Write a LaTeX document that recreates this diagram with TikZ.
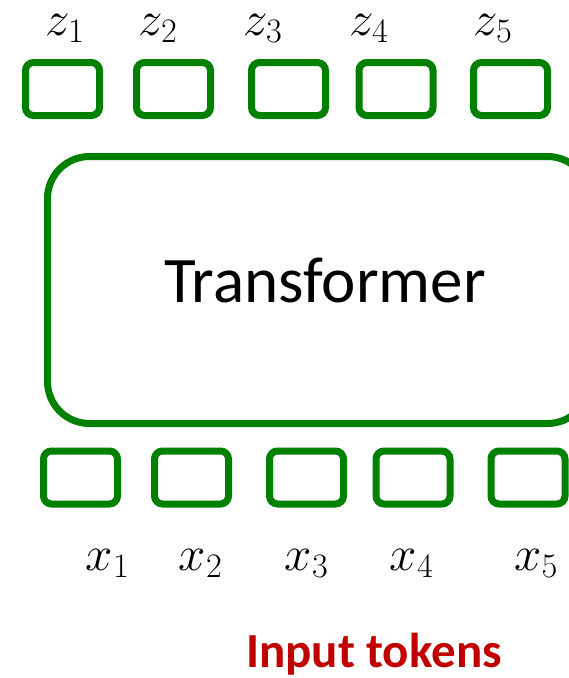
\RequirePackage{fix-cm}
\documentclass[tikz,border=0pt]{standalone}
\usepackage{amsmath}
\usepackage{fontspec}
\setsansfont{Carlito}
\usepackage{tikz}
\usetikzlibrary{positioning}
\usepackage{xcolor}
\definecolor{tokgreen}{RGB}{0,128,0}
\definecolor{tokred}{RGB}{192,0,0}

\begin{document}
\begin{tikzpicture}[x=1pt,y=-1pt]
  \tikzstyle{token}=[draw=tokgreen,line width=7pt,rounded corners=8pt,
                     minimum width=74pt,minimum height=53pt,inner sep=0pt]
  \tikzstyle{encoder}=[draw=tokgreen,line width=7pt,rounded corners=42pt,
                       minimum width=542pt,minimum height=267pt,inner sep=0pt]
  \tikzstyle{sym}=[anchor=base,inner sep=0pt,font=\fontsize{49}{52}\selectfont]

  \useasboundingbox (0,0) rectangle (569,678);

  \node[encoder] (tf)  at (318.5,290) {};
  \node[anchor=base,inner sep=0pt,font=\sffamily\fontsize{65}{70}\selectfont]
                 (tf_label) at (325,302) {Transformer};

  \node[token] (z_1) at (62.5,89)  {};
  \node[token] (z_2) at (173.5,89) {};
  \node[token] (z_3) at (288.5,89) {};
  \node[token] (z_4) at (396,89)   {};
  \node[token] (z_5) at (510.5,89) {};

  \node[sym] (zl_1) at (65,35)  {$z_1$};
  \node[sym] (zl_2) at (158,35) {$z_2$};
  \node[sym] (zl_3) at (263,35) {$z_3$};
  \node[sym] (zl_4) at (369,35) {$z_4$};
  \node[sym] (zl_5) at (493,35) {$z_5$};

  \node[token] (x_1) at (80.5,477.5)  {};
  \node[token] (x_2) at (191.5,477.5) {};
  \node[token] (x_3) at (306.5,477.5) {};
  \node[token] (x_4) at (413,477.5)   {};
  \node[token] (x_5) at (528,477.5)   {};

  \node[sym] (xl_1) at (107.5,570) {$x_1$};
  \node[sym] (xl_2) at (200.5,570) {$x_2$};
  \node[sym] (xl_3) at (306.5,570) {$x_3$};
  \node[sym] (xl_4) at (411.5,570) {$x_4$};
  \node[sym] (xl_5) at (536,570)   {$x_5$};

  \node[anchor=base,inner sep=0pt,text=tokred,
        font=\sffamily\bfseries\fontsize{49}{52}\selectfont]
        (inputs) at (374,667) {Input tokens};
\end{tikzpicture}
\end{document}
